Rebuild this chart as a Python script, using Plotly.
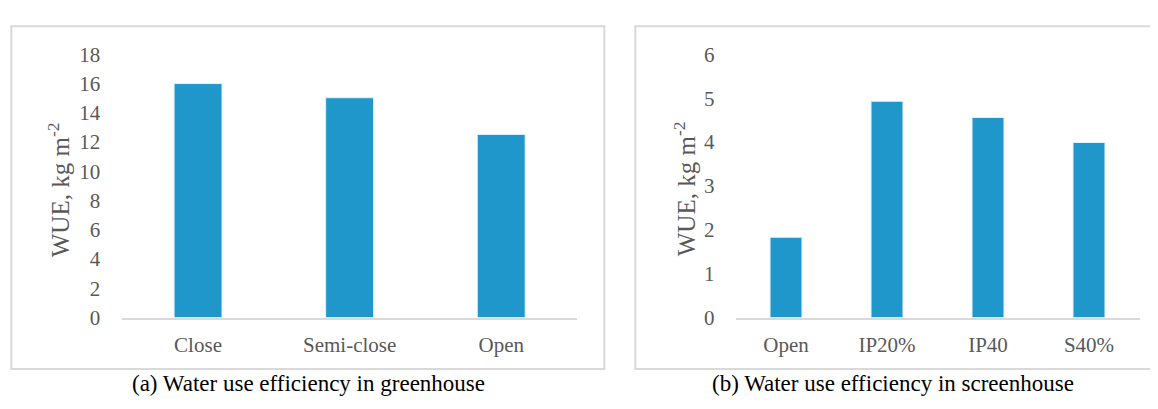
import plotly.graph_objects as go

# ---- data ----
cats_a = ["Close", "Semi-close", "Open"]
wue_a = [16.0, 15.03, 12.52]
ticks_a = [0, 2, 4, 6, 8, 10, 12, 14, 16, 18]

cats_b = ["Open", "IP20%", "IP40", "S40%"]
wue_b = [1.83, 4.93, 4.56, 3.99]
ticks_b = [0, 1, 2, 3, 4, 5, 6]

caption_a = "(a) Water use efficiency in greenhouse"
caption_b = "(b) Water use efficiency in screenhouse"
ytitle = "WUE, kg m<sup>-2</sup>"

# ---- styling ----
VW, VH = 1158, 409          # viewport
OFF = 8                     # page body margin
W, H = VW - OFF, VH - OFF   # figure size so it fits in the viewport

BAR = "#2097cb"
GRAY = "#595959"
FONT = "Liberation Serif, Times New Roman, serif"


def px(x):
    return (x - OFF) / W


def py(y):
    return 1 - (y - OFF) / H


fig = go.Figure()
fig.add_trace(go.Bar(x=cats_a, y=wue_a, marker=dict(color=BAR, line=dict(color="#dff0f8", width=1)),
                     xaxis="x", yaxis="y", showlegend=False, hoverinfo="x+y"))
fig.add_trace(go.Bar(x=cats_b, y=wue_b, marker=dict(color=BAR, line=dict(color="#dff0f8", width=1)),
                     xaxis="x2", yaxis="y2", showlegend=False, hoverinfo="x+y"))

y0, y1 = py(324.5), py(44.5)

axis_common = dict(showgrid=False, zeroline=False, ticks="",
                   tickfont=dict(family=FONT, size=21, color=GRAY))

fig.update_layout(
    width=W, height=H,
    margin=dict(l=0, r=0, t=0, b=0),
    paper_bgcolor="white", plot_bgcolor="white",
    bargap=0.684,
    xaxis=dict(domain=[px(122.25), px(577)], showline=True, linecolor="#d9d9d9", linewidth=1.5,
               anchor="y", ticklabelstandoff=7, **axis_common),
    yaxis=dict(domain=[y0, y1], range=[0, 18], tickvals=ticks_a, showline=False, anchor="x",
               ticklabelstandoff=21, **axis_common),
    xaxis2=dict(domain=[px(735.5), px(1139.5)], showline=True, linecolor="#d9d9d9", linewidth=1.5,
                anchor="y2", ticklabelstandoff=7, **axis_common),
    yaxis2=dict(domain=[y0, y1], range=[0, 6], tickvals=ticks_b, showline=False, anchor="x2",
                ticklabelstandoff=20, **axis_common),
)

# panel borders
fig.add_shape(type="rect", xref="paper", yref="paper", x0=px(11.3), x1=px(604.3), y0=py(379.3), y1=py(14.7),
              line=dict(color="#d9d9d9", width=2))
fig.add_shape(type="rect", xref="paper", yref="paper", x0=px(635.3), x1=px(1175), y0=py(379.3), y1=py(14.7),
              line=dict(color="#d9d9d9", width=2))

# y titles
for xc in (59, 685):
    fig.add_annotation(text=ytitle, xref="paper", yref="paper", x=px(xc), y=py(188), textangle=-90,
                       showarrow=False, font=dict(family=FONT, size=25, color=GRAY),
                       xanchor="center", yanchor="middle")

# captions
fig.add_annotation(text=caption_a, xref="paper", yref="paper", x=px(308), y=py(395), showarrow=False,
                   font=dict(family=FONT, size=23, color="black"), xanchor="center", yanchor="middle")
fig.add_annotation(text=caption_b, xref="paper", yref="paper", x=px(893), y=py(395), showarrow=False,
                   font=dict(family=FONT, size=23, color="black"), xanchor="center", yanchor="middle")

fig.write_html("out.html")
